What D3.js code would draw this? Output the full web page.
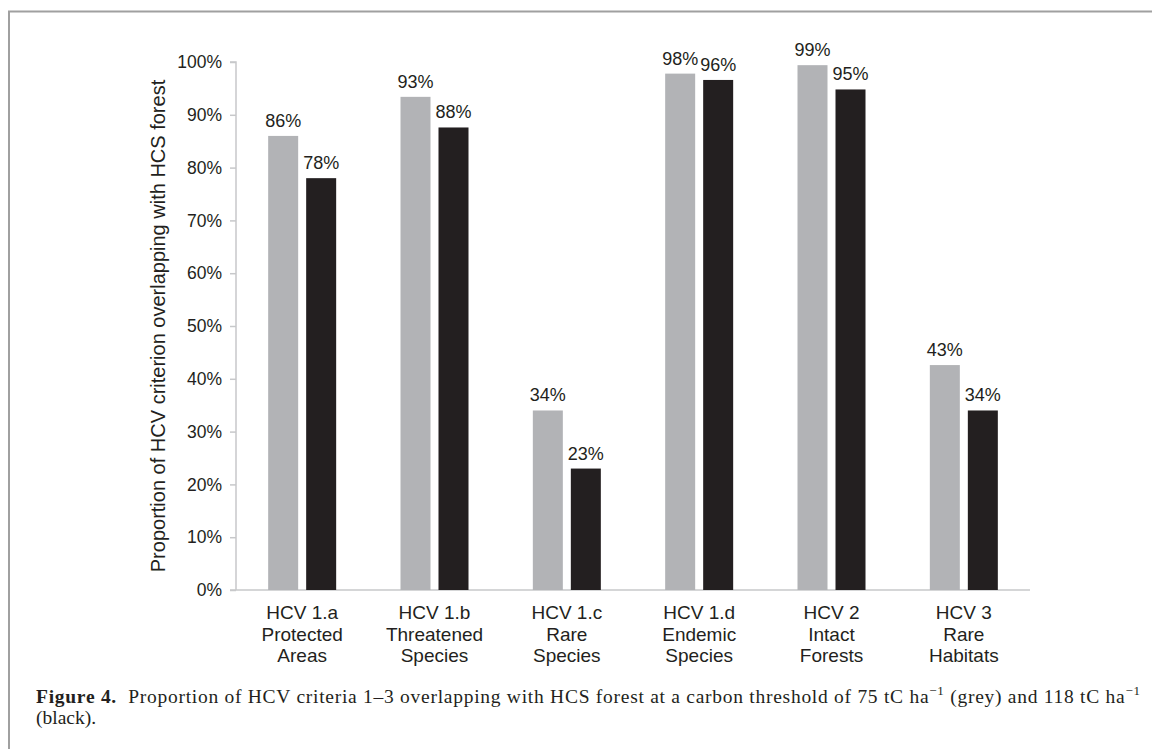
<!DOCTYPE html>
<html>
<head>
<meta charset="utf-8">
<script src="https://cdn.jsdelivr.net/npm/d3@7"></script>
<style>
  body { margin: 0; background: #fff; }
  svg { display: block; }
</style>
</head>
<body>
<div id="vis1"></div>
<script>
// Data
const categories = ["HCV 1.a", "HCV 1.b", "HCV 1.c", "HCV 1.d", "HCV 2", "HCV 3"];
const subLabels = [["Protected", "Areas"], ["Threatened", "Species"], ["Rare", "Species"],
                   ["Endemic", "Species"], ["Intact", "Forests"], ["Rare", "Habitats"]];
const grey75 = [86.0, 93.4, 34.0, 97.8, 99.4, 42.6];
const black118 = [78.0, 87.6, 23.0, 96.6, 94.8, 34.0];
const greyLabels = ["86%", "93%", "34%", "98%", "99%", "43%"];
const blackLabels = ["78%", "88%", "23%", "96%", "95%", "34%"];
const yTicks = [0, 10, 20, 30, 40, 50, 60, 70, 80, 90, 100];

const FRAME_WIDTH = 1152;
const FRAME_HEIGHT = 749;
const MARGINS = {left: 236, right: 122, top: 62, bottom: 159};

const TEXT = "#231f20";
const SANS = "'Liberation Sans', Arial, sans-serif";
const SERIF = "'Liberation Serif', 'Times New Roman', serif";

const svg = d3.select("#vis1")
  .append("svg")
    .attr("width", FRAME_WIDTH)
    .attr("height", FRAME_HEIGHT);

// figure frame (left and top rules only)
svg.append("path")
  .attr("d", `M9,${FRAME_HEIGHT} V11.5 H${FRAME_WIDTH}`)
  .attr("fill", "none")
  .attr("stroke", "#a0a0a0")
  .attr("stroke-width", 2);

const xScale = d3.scaleBand()
  .domain(categories)
  .range([MARGINS.left, FRAME_WIDTH - MARGINS.right]);

const yScale = d3.scaleLinear()
  .domain([0, 100])
  .range([FRAME_HEIGHT - MARGINS.bottom, MARGINS.top]);

const barW = 30, barGap = 8;

// y axis
const yAxis = svg.append("g")
  .attr("transform", `translate(${MARGINS.left},0)`)
  .call(d3.axisLeft(yScale).tickValues(yTicks).tickSize(6).tickPadding(8)
          .tickFormat(d => d + "%"));
yAxis.select(".domain").attr("stroke", "#c7c8ca").attr("stroke-width", 1.5)
  .attr("d", `M-6,${yScale(100)}H0V${yScale(0)}`);
yAxis.selectAll(".tick line").attr("stroke", "#c7c8ca").attr("stroke-width", 1.5);
yAxis.selectAll(".tick text")
  .attr("fill", TEXT)
  .style("font-family", SANS)
  .style("font-size", "17.5px");

// x axis baseline
svg.append("line")
  .attr("x1", MARGINS.left - 6)
  .attr("x2", FRAME_WIDTH - MARGINS.right)
  .attr("y1", yScale(0))
  .attr("y2", yScale(0))
  .attr("stroke", "#c7c8ca")
  .attr("stroke-width", 1.5);

// bars
const groups = svg.selectAll(".grp")
  .data(categories)
  .enter()
  .append("g")
  .attr("class", "grp");

const cx = (d) => xScale(d) + xScale.bandwidth() / 2;

groups.append("rect")
  .attr("x", d => cx(d) - barGap / 2 - barW)
  .attr("y", (d, i) => yScale(grey75[i]))
  .attr("width", barW)
  .attr("height", (d, i) => yScale(0) - yScale(grey75[i]))
  .attr("fill", "#b2b3b6");

groups.append("rect")
  .attr("x", d => cx(d) + barGap / 2)
  .attr("y", (d, i) => yScale(black118[i]))
  .attr("width", barW)
  .attr("height", (d, i) => yScale(0) - yScale(black118[i]))
  .attr("fill", TEXT);

// value labels
const lblStyle = sel => sel
  .attr("text-anchor", "middle")
  .attr("fill", TEXT)
  .style("font-family", SANS)
  .style("font-size", "18px");

groups.append("text")
  .attr("x", d => cx(d) - barGap / 2 - barW / 2)
  .attr("y", (d, i) => yScale(grey75[i]) - 9)
  .text((d, i) => greyLabels[i])
  .call(lblStyle);

groups.append("text")
  .attr("x", d => cx(d) + barGap / 2 + barW / 2)
  .attr("y", (d, i) => yScale(black118[i]) - 9)
  .text((d, i) => blackLabels[i])
  .call(lblStyle);

// category labels
const catText = groups.append("text")
  .attr("x", d => cx(d))
  .attr("y", yScale(0) + 29)
  .call(lblStyle)
  .style("font-size", "19px");
catText.append("tspan")
  .attr("x", d => cx(d))
  .text(d => d);
catText.selectAll(".sub")
  .data((d, i) => subLabels[i].map(s => ({s: s, c: d})))
  .enter()
  .append("tspan")
  .attr("x", d => cx(d.c))
  .attr("dy", 21.5)
  .text(d => d.s);

// y axis title
svg.append("text")
  .attr("transform", `translate(158,${(yScale(0) + yScale(100)) / 2}) rotate(-90)`)
  .attr("text-anchor", "middle")
  .attr("dy", "0.35em")
  .attr("fill", TEXT)
  .style("font-family", SANS)
  .style("font-size", "20px")
  .text("Proportion of HCV criterion overlapping with HCS forest");

// caption
const cap = svg.append("text")
  .attr("x", 36)
  .attr("y", 703)
  .attr("fill", TEXT)
  .attr("textLength", 1104)
  .attr("lengthAdjust", "spacing")
  .style("font-family", SERIF)
  .style("font-size", "19.5px");
cap.append("tspan").style("font-weight", "bold").text("Figure 4.");
cap.append("tspan").text("\u00a0 Proportion of HCV criteria 1\u20133 overlapping with HCS forest at a carbon threshold of 75 tC ha");
cap.append("tspan").attr("dy", -8).style("font-size", "13px").text("\u22121");
cap.append("tspan").attr("dy", 8).text(" (grey) and 118 tC ha");
cap.append("tspan").attr("dy", -8).style("font-size", "13px").text("\u22121");

svg.append("text")
  .attr("x", 36)
  .attr("y", 724)
  .attr("fill", TEXT)
  .style("font-family", SERIF)
  .style("font-size", "19.5px")
  .text("(black).");
</script>
</body>
</html>
